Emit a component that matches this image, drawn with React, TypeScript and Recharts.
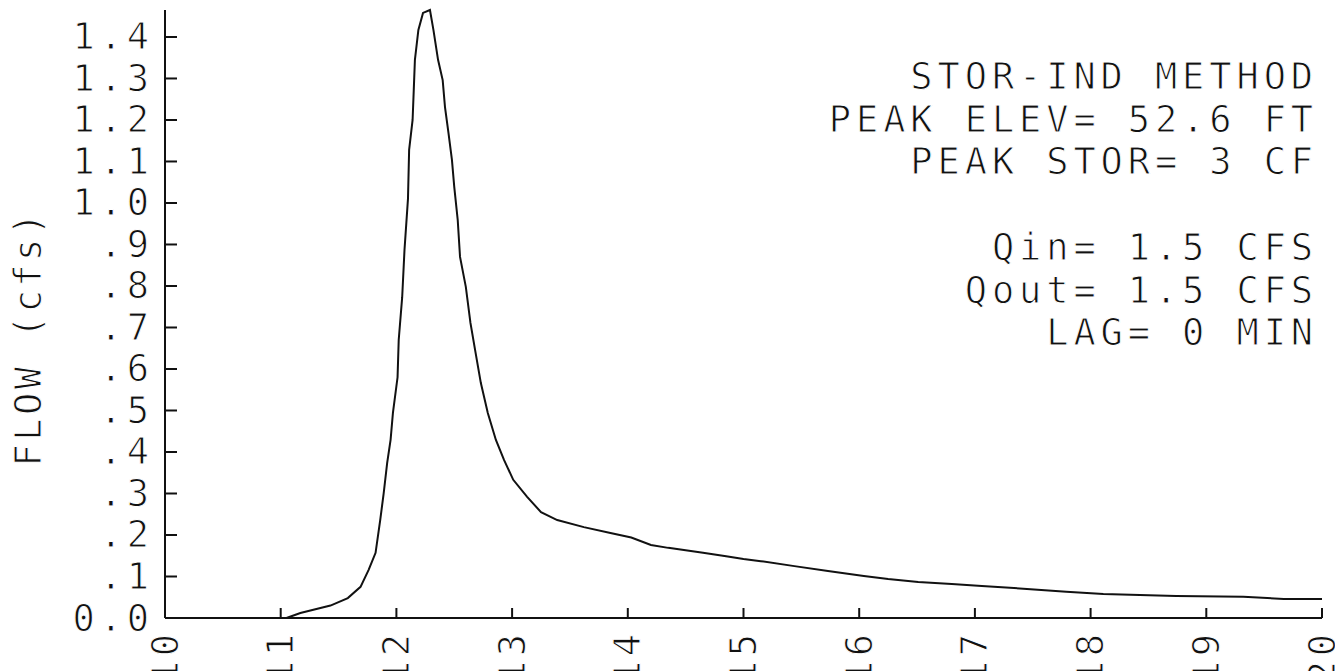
import { LineChart, Line, XAxis, YAxis } from "recharts";

// outflow hydrograph, time in hours
const hours = [
  11.05, 11.17, 11.43, 11.58, 11.69, 11.76, 11.82, 11.86, 11.89, 11.92, 11.95,
  11.97, 12.01, 12.02, 12.05, 12.07, 12.1, 12.11, 12.14, 12.15, 12.16, 12.19,
  12.23, 12.29, 12.32, 12.36, 12.4, 12.42, 12.45, 12.48, 12.5, 12.53, 12.55,
  12.6, 12.64, 12.68, 12.73, 12.79, 12.86, 12.93, 13.01, 13.13, 13.25, 13.39,
  13.62, 13.85, 14.03, 14.2, 14.35, 14.65, 14.85, 15.0, 15.15, 15.44, 15.73,
  16.04, 16.25, 16.51, 16.8, 17.06, 17.45, 17.79, 18.11, 18.74, 19.32, 19.67,
  20.0,
];
const flow = [
  0.0, 0.012, 0.03, 0.048, 0.075, 0.116, 0.157, 0.236, 0.3, 0.373, 0.43,
  0.494, 0.58, 0.67, 0.773, 0.887, 1.01, 1.128, 1.2, 1.272, 1.345, 1.417,
  1.458, 1.465, 1.417, 1.345, 1.296, 1.231, 1.169, 1.104, 1.039, 0.959, 0.87,
  0.798, 0.711, 0.646, 0.566, 0.494, 0.429, 0.381, 0.333, 0.292, 0.255, 0.236,
  0.219, 0.205, 0.194, 0.176, 0.169, 0.157, 0.149, 0.142, 0.137, 0.125, 0.113,
  0.101, 0.094, 0.087, 0.082, 0.077, 0.07, 0.063, 0.058, 0.053, 0.051, 0.046,
  0.046,
];

const xTicks = [10, 11, 12, 13, 14, 15, 16, 17, 18, 19, 20];
const yTicks = [0, 0.1, 0.2, 0.3, 0.4, 0.5, 0.6, 0.7, 0.8, 0.9, 1.0, 1.1, 1.2, 1.3, 1.4];

const notes = [
  "STOR-IND METHOD",
  "PEAK ELEV= 52.6 FT",
  "PEAK STOR= 3 CF",
  "",
  "Qin= 1.5 CFS",
  "Qout= 1.5 CFS",
  "LAG= 0 MIN",
];

const data = hours.map((h, i) => ({ hour: h, flow: flow[i] }));

const W = 1335;
const H = 671;
const AXIS_X = 165;
const AXIS_Y = 618;
const FONT = "'DejaVu Sans Mono', monospace";
const FS = 37;
const LS = 4.9;
const INK = "#111";

// thin the glyph strokes a little with a white outline painted over the fill
const textStyle = {
  fontFamily: FONT,
  fontSize: FS,
  letterSpacing: LS,
  fill: INK,
  stroke: "#fff",
  strokeWidth: 1,
  whiteSpace: "pre" as const,
};

const fmtY = (v: number) => {
  if (v === 0) return "0.0";
  const s = v.toFixed(1);
  return v < 1 ? s.slice(1) : s;
};

function XTick(props: any) {
  const { x, payload } = props;
  const ty = AXIS_Y + 11;
  return (
    <g>
      <line x1={x} y1={AXIS_Y} x2={x} y2={AXIS_Y - 10} stroke={INK} strokeWidth={2} />
      <text
        x={x}
        y={ty}
        transform={`rotate(-90, ${x}, ${ty})`}
        textAnchor="end"
        dominantBaseline="central"
        style={textStyle}
      >
        {payload.value}
      </text>
    </g>
  );
}

function YTick(props: any) {
  const { y, payload } = props;
  return (
    <g>
      <line x1={AXIS_X} y1={y} x2={AXIS_X + 12} y2={y} stroke={INK} strokeWidth={2} />
      <text x={AXIS_X - 11} y={y} textAnchor="end" dominantBaseline="central" style={textStyle}>
        {fmtY(payload.value)}
      </text>
    </g>
  );
}

export default function App() {
  return (
    <div style={{ position: "absolute", left: 0, top: 0, width: W, height: H, background: "#fff" }}>
      <LineChart width={W} height={H} data={data} margin={{ top: 10, right: 13, left: 0, bottom: 0 }}>
        <XAxis
          dataKey="hour"
          type="number"
          domain={[10, 20]}
          ticks={xTicks}
          interval={0}
          height={H - AXIS_Y}
          tickSize={0}
          tickMargin={0}
          tickLine={false}
          axisLine={{ stroke: INK, strokeWidth: 2 }}
          tick={(p: any) => <XTick {...p} />}
        />
        <YAxis
          type="number"
          domain={[0, 1.465]}
          ticks={yTicks}
          interval={0}
          width={AXIS_X}
          tickSize={0}
          tickMargin={0}
          tickLine={false}
          axisLine={{ stroke: INK, strokeWidth: 2 }}
          tick={(p: any) => <YTick {...p} />}
        />
        <Line
          type="linear"
          dataKey="flow"
          stroke={INK}
          strokeWidth={2}
          dot={false}
          isAnimationActive={false}
        />
      </LineChart>
      <svg width={W} height={H} style={{ position: "absolute", left: 0, top: 0, pointerEvents: "none" }}>
        <text
          x={28}
          y={338}
          transform="rotate(-90, 28, 338)"
          textAnchor="middle"
          dominantBaseline="central"
          style={{ ...textStyle, letterSpacing: 3.4 }}
        >
          FLOW (cfs)
        </text>
        {notes.map((t, i) => (
          <text key={i} x={1318} y={89 + i * 42.7} textAnchor="end" style={textStyle}>
            {t}
          </text>
        ))}
      </svg>
    </div>
  );
}
